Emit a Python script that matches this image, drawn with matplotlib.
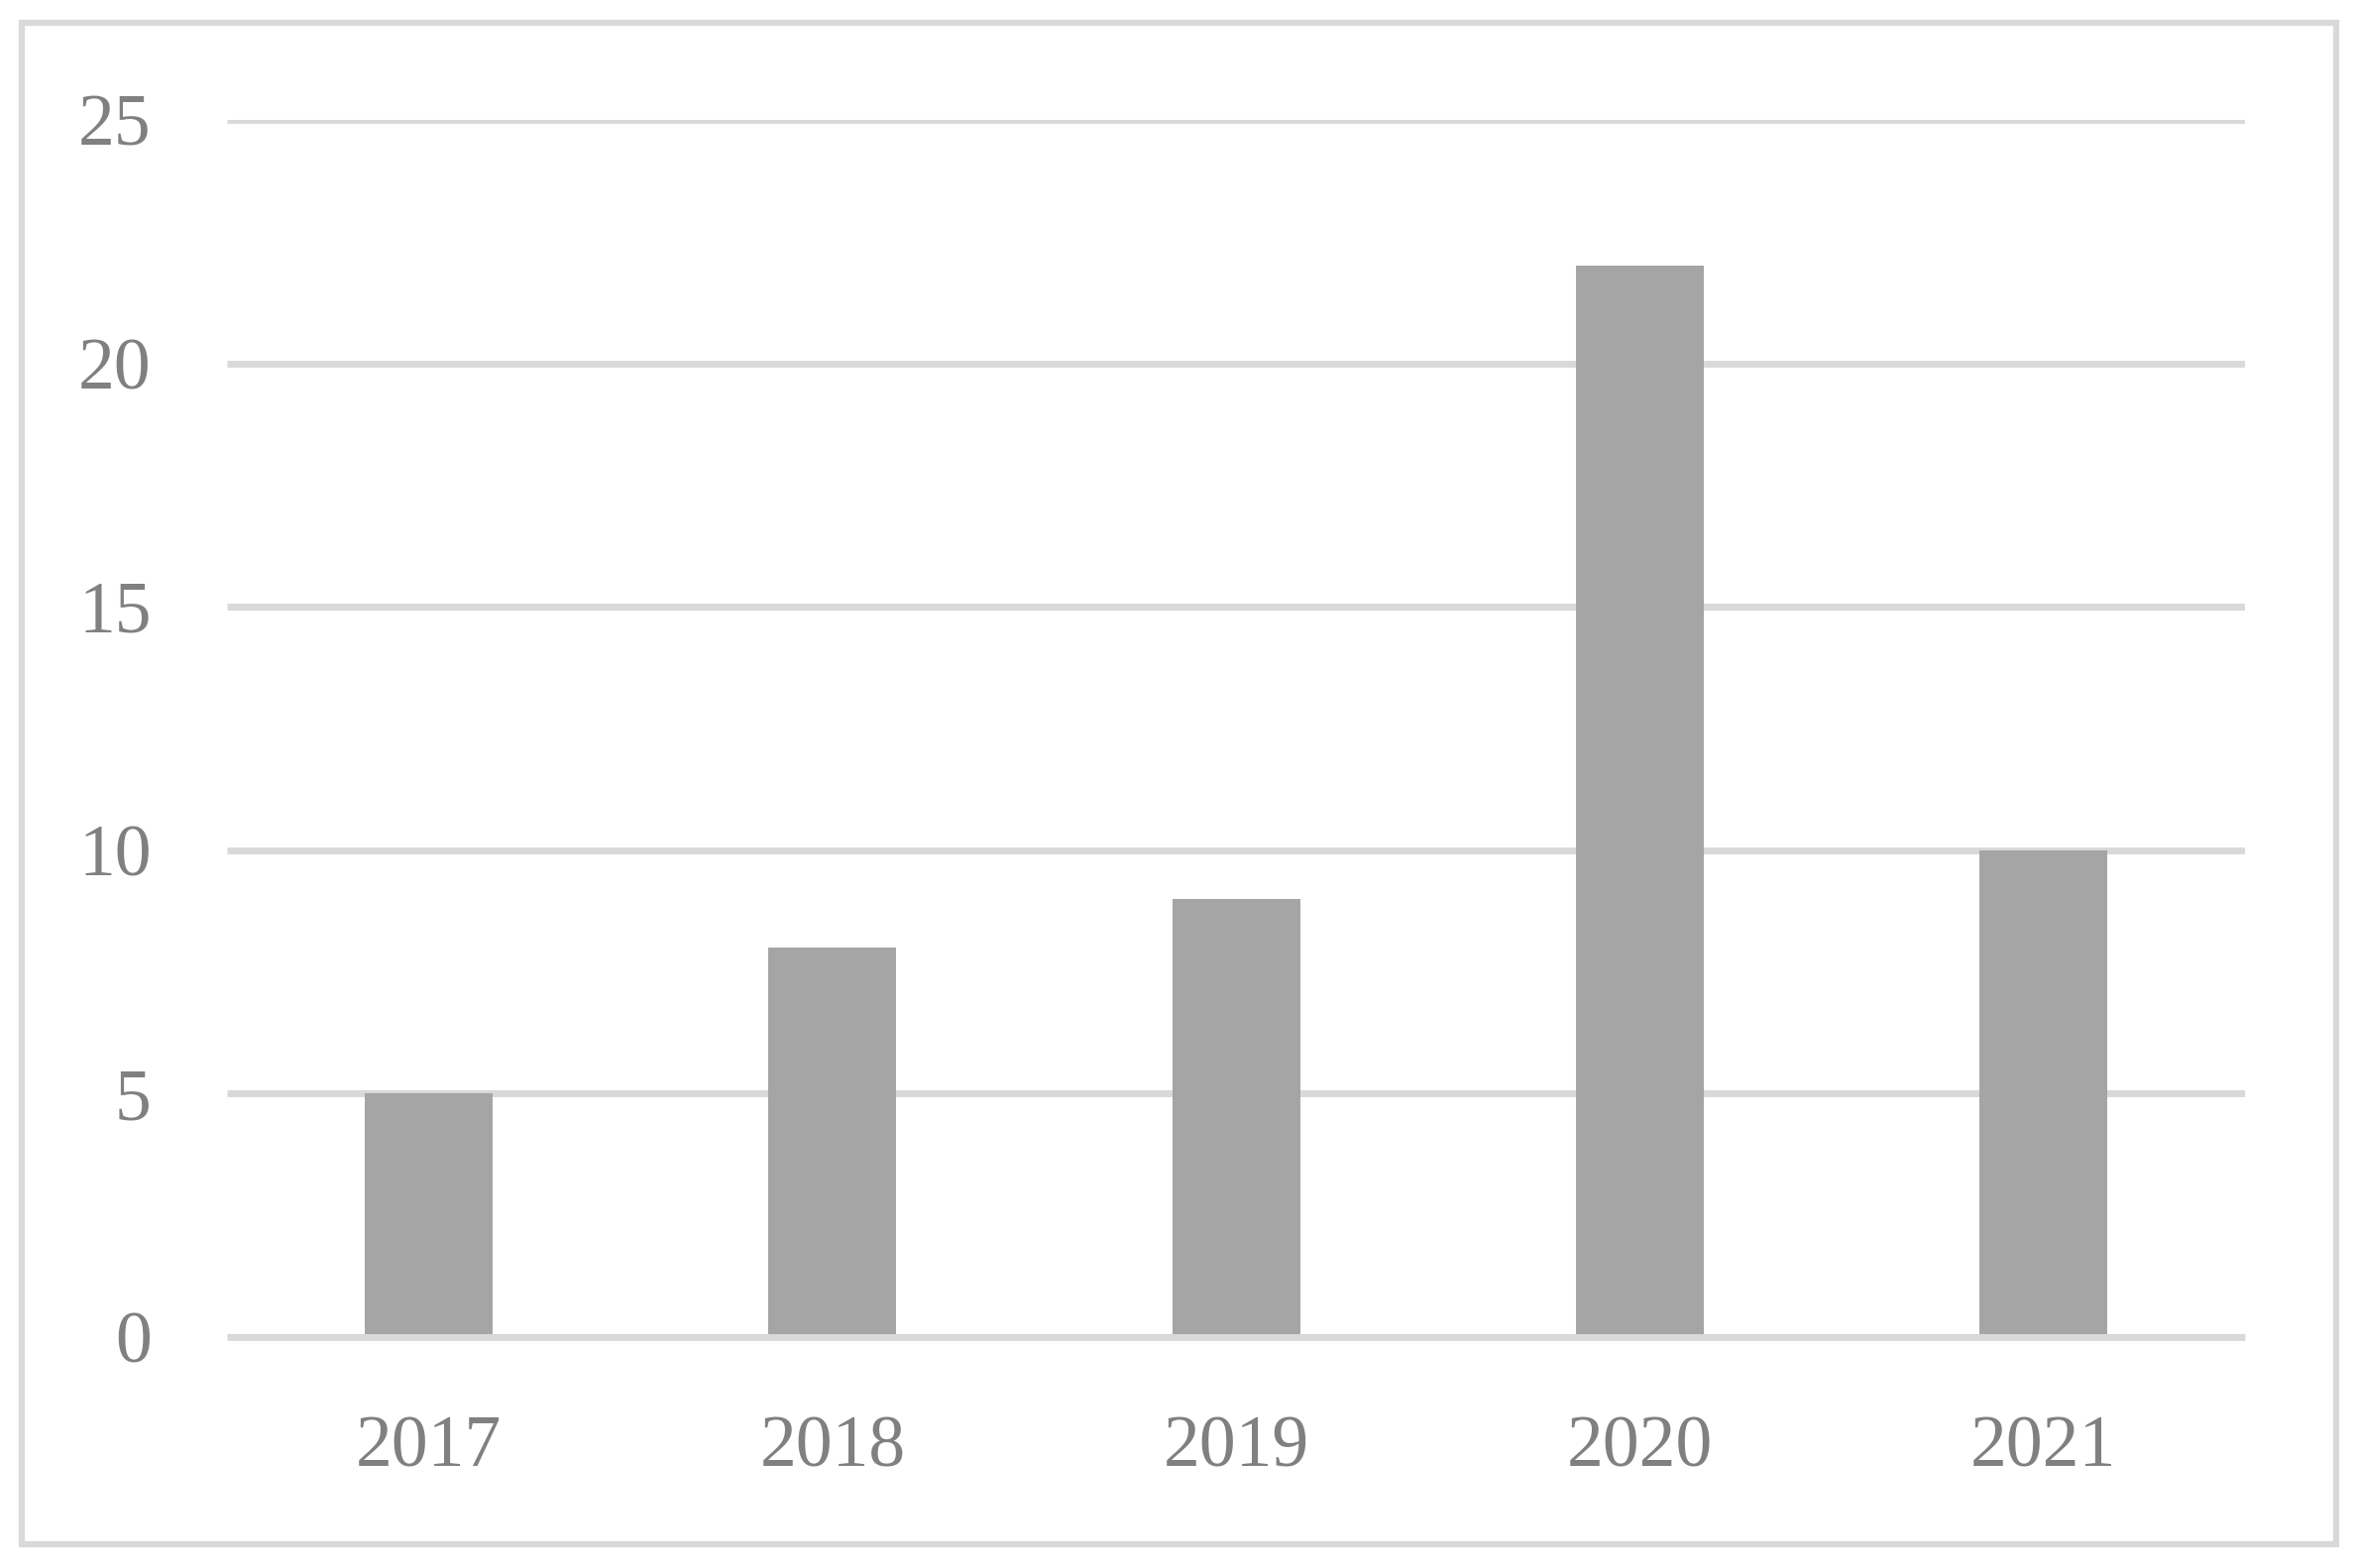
import numpy as np
import matplotlib
matplotlib.use("Agg")
import matplotlib.pyplot as plt
from matplotlib.patches import Rectangle

years = ["2017", "2018", "2019", "2020", "2021"]
counts = [5, 8, 9, 22, 10]
yticks = [0, 5, 10, 15, 20, 25]

grey_txt = "#808080"
grid_col = "#d9d9d9"
bar_col = "#a5a5a5"

plt.rcParams["font.family"] = ["Liberation Serif", "DejaVu Serif"]

fig = plt.figure(figsize=(23.79, 15.82), dpi=100)
ax = fig.add_axes([0.0963, 0.1473, 0.8558, 0.7762])

x = np.arange(len(years))
ax.bar(x, counts, width=0.317, color=bar_col, zorder=2)

ax.set_xlim(-0.5, len(years) - 0.5)
ax.set_ylim(0, 25)
ax.set_yticks(yticks)
ax.set_xticks(x)
ax.set_xticklabels(years)

ax.grid(axis="y", color=grid_col, linewidth=5, zorder=1, solid_capstyle="butt")
ax.axhline(0, color=grid_col, linewidth=5, zorder=3, clip_on=False,
           solid_capstyle="butt")
ax.set_axisbelow(True)

for s in ax.spines.values():
    s.set_visible(False)
ax.tick_params(axis="both", length=0, labelsize=53, colors=grey_txt)
ax.tick_params(axis="y", pad=55)
ax.tick_params(axis="x", pad=57)

# outer chart frame
fig.patches.append(Rectangle((22 / 2379, 1 - 1558 / 1582), 2335 / 2379, 1535 / 1582,
                             transform=fig.transFigure, fill=False,
                             edgecolor=grid_col, linewidth=4.5))

fig.savefig("out.png", dpi=100, facecolor="white")
